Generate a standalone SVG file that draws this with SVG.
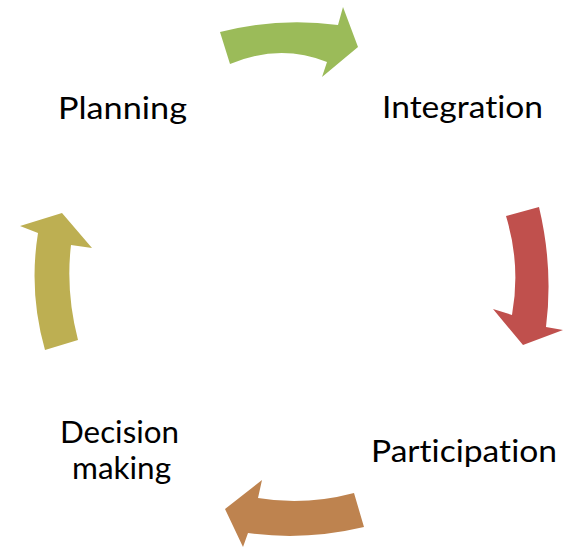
<svg xmlns="http://www.w3.org/2000/svg" width="574" height="548" viewBox="0 0 574 548">
<style>
.lbl{font-family:Lato,"Liberation Sans",Arial,sans-serif;font-size:31px;fill:#000;text-anchor:start;font-variant-ligatures:none}
</style>
<rect width="574" height="548" fill="#fff"/>
<g id="connectors">
<path id="arrow-planning-integration" d="M220,32 Q279,17 338,25 L343,7 L358,47 L322,77 L327,62 Q280,43 230,64 Z" fill="#9BBB59"/>
<path id="arrow-integration-participation" d="M506,216 L539,207 Q553.5,268 546,327 L563,330 L523,345 L493,309 L512,315 Q521,265 506,216 Z" fill="#C0504D"/>
<path id="arrow-participation-decision" d="M354,493 L364,527 Q305,541 248,533 L243,547 L225,509 L262,480 L258,498 Q305,506 354,493 Z" fill="#BE834F"/>
<path id="arrow-decision-planning" d="M45,350 Q28.5,292 38,233 L20,226 L62,213 L92,248 L71,245 Q65.5,292 78,340 Z" fill="#BDAF52"/>
</g>
<g id="node-planning"><text class="lbl" x="58" y="119" textLength="129" lengthAdjust="spacingAndGlyphs">Planning</text></g>
<g id="node-integration"><text class="lbl" x="382" y="118" textLength="161" lengthAdjust="spacingAndGlyphs">Integration</text></g>
<g id="node-participation"><text class="lbl" x="371" y="462" textLength="186" lengthAdjust="spacingAndGlyphs">Participation</text></g>
<g id="node-decision"><text class="lbl" x="60" y="443" textLength="119" lengthAdjust="spacingAndGlyphs">Decision</text><text class="lbl" x="72" y="479" textLength="99" lengthAdjust="spacingAndGlyphs">making</text></g>
</svg>
